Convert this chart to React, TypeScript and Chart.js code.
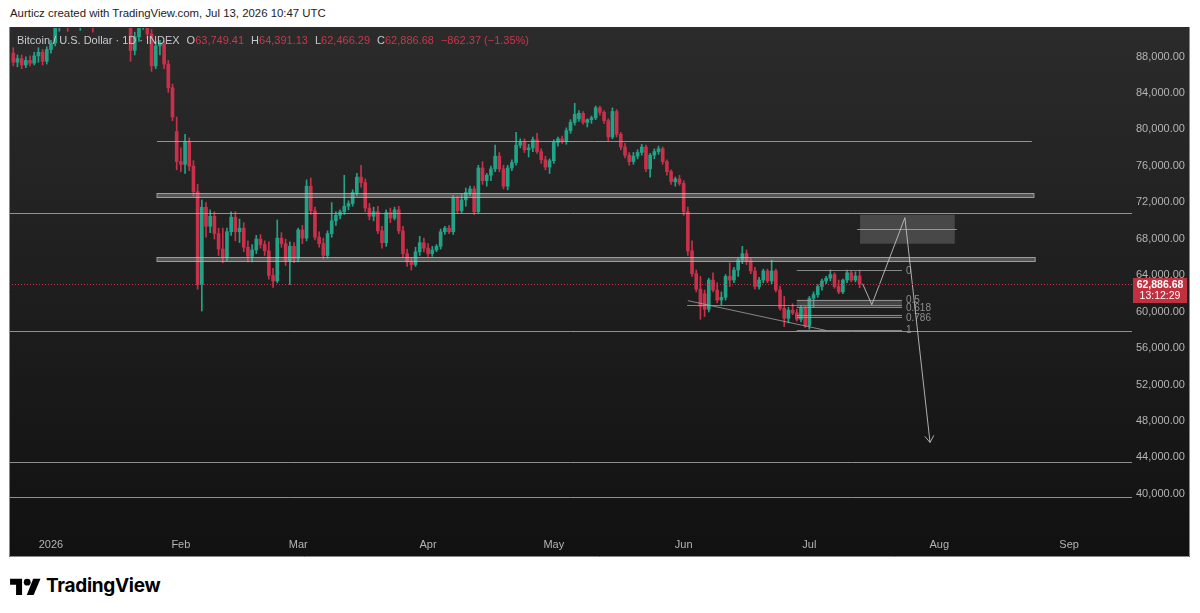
import React, { useEffect, useRef } from "react";
import { Chart, registerables } from "chart.js";

Chart.register(...registerables);

// first candle = 23 Dec 2025, expressed as days from 1 Jan 2026
const FIRST_DAY = -9;

// daily OHLC, in thousands of USD
const opens = [
  88.2, 87.2, 87.6, 86.9, 87.4, 87.1, 87.9, 88.3, 87.3,
  88.6, 89.3, 91.2, 92.0, 93.0, 91.5, 93.5, 91.8, 92.5, 94.0, 92.0, 91.4, 93.5, 95.0, 97.0, 95.5, 96.0, 95.2, 93.5, 92.0, 88.5, 90.0, 91.2, 92.0, 90.3, 86.8, 89.0, 89.2, 87.0, 84.4, 79.6,
  76.3, 76.0, 78.5, 75.8, 73.0, 62.8, 71.3, 69.2, 70.3, 68.4, 66.7, 65.8, 68.6, 70.2, 68.6, 69.0, 66.9, 65.9, 66.6, 67.8, 67.2, 66.5, 63.8, 63.2, 67.9, 67.3, 65.4, 67.0,
  65.7, 68.8, 67.9, 73.6, 70.9, 68.0, 67.3, 66.0, 68.4, 69.8, 70.4, 70.8, 71.4, 71.7, 72.9, 74.6, 74.0, 71.2, 70.3, 70.8, 68.7, 67.4, 70.7, 70.1, 71.0, 68.7, 66.2, 65.3, 65.0, 66.4, 67.4,
  66.8, 66.2, 66.6, 67.0, 68.6, 69.0, 68.6, 72.3, 70.9, 72.1, 72.9, 73.3, 70.8, 75.6, 74.2, 74.8, 75.5, 76.9, 75.5, 73.6, 75.6, 76.2, 78.1, 78.4, 77.6, 77.8, 78.7, 77.4, 76.5, 75.7,
  76.4, 78.4, 78.8, 78.5, 79.7, 80.6, 81.0, 81.6, 80.6, 80.9, 81.1, 82.2, 81.7, 80.8, 79.0, 81.8, 79.3, 77.9, 77.0, 76.3, 76.9, 77.3, 77.9, 75.5, 77.0, 77.4, 77.7, 76.3, 75.2, 74.1, 74.4,
  73.9, 70.8, 66.5, 64.0, 62.3, 61.8, 60.1, 63.3, 62.2, 61.1, 61.4, 63.7, 63.3, 64.4, 65.5, 66.2, 65.4, 64.3, 62.6, 63.3, 64.3, 63.2, 64.3, 62.2, 60.2, 59.1, 60.0, 59.7, 59.0, 60.2,
  58.3, 61.3, 61.7, 62.6, 63.2, 63.5, 63.9, 62.6, 62.0, 63.3, 64.1, 63.3, 63.749,
];
const highs = [
  88.8, 88.0, 88.0, 87.8, 87.9, 88.3, 88.8, 88.6, 88.9,
  89.6, 91.5, 92.5, 93.5, 93.5, 94.0, 94.2, 93.0, 94.5, 94.5, 92.6, 94.0, 95.5, 97.5, 97.5, 96.5, 96.3, 95.6, 94.0, 92.5, 90.5, 91.8, 92.5, 92.3, 90.8, 89.5, 89.6, 89.5, 87.4, 84.8, 81.2,
  77.8, 79.3, 78.9, 76.4, 73.8, 72.1, 71.8, 71.0, 70.8, 69.0, 69.0, 69.0, 70.8, 70.8, 70.0, 69.6, 67.6, 67.2, 68.2, 68.3, 67.6, 67.5, 64.6, 69.9, 68.5, 67.8, 67.5, 67.4,
  69.0, 69.3, 74.3, 74.5, 71.3, 68.6, 67.9, 68.7, 71.8, 70.8, 71.0, 74.8, 72.0, 73.2, 75.0, 75.9, 74.4, 71.7, 71.3, 71.4, 69.2, 71.0, 71.2, 71.3, 71.4, 69.2, 66.7, 65.8, 66.9, 68.1, 67.9,
  67.3, 67.0, 67.2, 68.9, 69.2, 69.3, 72.6, 72.5, 72.7, 73.4, 73.6, 73.6, 75.9, 76.3, 75.0, 75.8, 78.1, 77.3, 75.9, 75.9, 76.5, 79.5, 78.8, 78.8, 78.2, 79.0, 79.4, 77.7, 76.9, 76.6,
  78.7, 79.0, 79.1, 80.0, 80.9, 82.7, 81.9, 81.8, 81.0, 81.3, 82.4, 82.4, 81.9, 81.0, 82.2, 82.0, 79.5, 78.3, 77.3, 77.3, 77.6, 78.2, 78.1, 77.2, 77.7, 78.0, 77.9, 76.5, 75.4, 74.6, 74.8,
  74.2, 71.3, 67.6, 64.4, 63.7, 62.2, 63.5, 64.1, 63.0, 62.0, 63.9, 65.2, 64.7, 65.7, 67.0, 66.6, 65.7, 64.7, 63.6, 64.5, 64.5, 65.5, 64.5, 62.6, 61.5, 60.3, 60.7, 60.1, 60.5, 60.4,
  61.5, 62.0, 62.8, 63.4, 63.7, 64.4, 64.1, 63.3, 63.4, 64.4, 64.3, 64.2, 64.391,
];
const lows = [
  86.8, 86.7, 86.5, 86.6, 86.8, 86.9, 87.2, 86.9, 87.0,
  88.2, 89.0, 90.6, 91.5, 90.6, 91.2, 91.2, 90.7, 92.0, 91.5, 90.5, 91.0, 93.0, 94.5, 95.0, 94.8, 94.8, 93.0, 91.5, 87.3, 88.0, 89.5, 90.8, 89.8, 86.2, 86.5, 88.0, 86.5, 83.9, 80.8, 75.4,
  75.2, 75.0, 75.3, 72.5, 62.3, 59.9, 68.0, 68.5, 67.8, 66.0, 65.2, 65.4, 68.2, 67.6, 67.4, 66.4, 65.3, 65.3, 66.2, 66.8, 66.0, 63.4, 62.5, 63.0, 66.9, 64.9, 62.8, 65.2,
  65.3, 67.3, 67.6, 70.5, 67.7, 66.9, 65.6, 65.7, 68.0, 69.3, 70.0, 70.5, 71.0, 71.4, 72.6, 73.5, 70.8, 69.9, 69.8, 68.4, 66.8, 67.0, 69.6, 69.9, 68.4, 65.8, 64.8, 64.4, 64.8, 66.0, 66.4,
  65.9, 65.9, 66.4, 66.7, 68.3, 68.4, 68.3, 70.6, 70.7, 71.4, 72.6, 70.5, 70.6, 73.8, 73.6, 74.2, 75.2, 75.2, 73.3, 73.2, 75.3, 75.9, 77.8, 77.3, 76.8, 77.4, 77.2, 76.1, 75.4, 75.0,
  76.1, 78.0, 78.3, 78.2, 79.4, 80.3, 80.7, 80.4, 80.1, 80.5, 80.9, 81.4, 80.5, 78.6, 78.8, 79.0, 77.6, 76.7, 75.9, 76.0, 76.6, 77.0, 75.2, 74.6, 76.6, 77.1, 76.0, 74.8, 73.8, 73.6, 73.7,
  70.4, 66.0, 63.7, 62.0, 59.0, 59.3, 59.8, 62.0, 60.8, 60.6, 61.1, 62.6, 63.0, 63.7, 65.1, 65.0, 64.0, 62.3, 62.3, 63.0, 63.0, 62.9, 62.0, 60.0, 58.2, 58.6, 59.5, 58.8, 58.7, 58.1,
  57.9, 60.3, 61.4, 62.2, 62.9, 63.2, 62.4, 61.8, 61.8, 63.0, 63.1, 63.1, 62.466,
];
const closes = [
  87.2, 87.6, 86.9, 87.4, 87.1, 87.9, 88.3, 87.3, 88.6,
  89.3, 91.2, 92.0, 93.0, 91.5, 93.5, 91.8, 92.5, 94.0, 92.0, 91.4, 93.5, 95.0, 97.0, 95.5, 96.0, 95.2, 93.5, 92.0, 88.5, 90.0, 91.2, 92.0, 90.3, 86.8, 89.0, 89.2, 87.0, 84.4, 81.2, 76.3,
  76.0, 78.5, 75.8, 73.0, 62.8, 71.3, 69.2, 70.3, 68.4, 66.7, 65.8, 68.6, 70.2, 68.6, 69.0, 66.9, 65.9, 66.6, 67.8, 67.2, 66.5, 63.8, 63.2, 67.9, 67.3, 65.4, 67.0, 65.7,
  68.8, 67.9, 73.6, 70.9, 68.0, 67.3, 66.0, 68.4, 69.8, 70.4, 70.8, 71.4, 71.7, 72.9, 74.6, 74.0, 71.2, 70.3, 70.8, 68.7, 67.4, 70.7, 70.1, 71.0, 68.7, 66.2, 65.3, 65.0, 66.4, 67.4, 66.8,
  66.2, 66.6, 67.0, 68.6, 69.0, 68.6, 72.3, 70.9, 72.1, 72.9, 73.3, 70.8, 75.6, 74.2, 74.8, 75.5, 76.9, 75.5, 73.6, 75.6, 76.2, 78.1, 78.4, 77.6, 77.8, 78.7, 77.4, 76.5, 75.7, 76.4,
  78.4, 78.8, 78.5, 79.7, 80.6, 81.5, 81.6, 80.6, 80.9, 81.1, 82.2, 81.7, 80.8, 79.0, 81.8, 79.3, 77.9, 77.0, 76.3, 76.9, 77.3, 77.9, 75.5, 77.0, 77.4, 77.7, 76.3, 75.2, 74.1, 74.4, 73.9,
  70.8, 66.5, 64.0, 62.3, 60.4, 60.1, 63.3, 62.2, 61.1, 61.4, 63.7, 63.3, 64.4, 65.5, 66.2, 65.4, 64.3, 62.6, 63.3, 64.3, 63.2, 64.3, 62.2, 60.2, 59.1, 60.0, 59.7, 59.0, 60.2, 58.3,
  61.3, 61.7, 62.6, 63.2, 63.5, 63.9, 62.6, 62.0, 63.3, 64.1, 63.3, 63.749, 62.887,
];

const monthTickDays = [0, 31, 59, 90, 120, 151, 181, 212, 243];
const monthTickLabels = ["2026", "Feb", "Mar", "Apr", "May", "Jun", "Jul", "Aug", "Sep"];
const priceTicks = [40, 44, 48, 52, 56, 60, 64, 68, 72, 76, 80, 84, 88];

const lastPrice = 62.887;
const lastPriceLabel = "62,886.68";
const countdownLabel = "13:12:29";

// drawings (day index from 1 Jan 2026, price in thousands)
const fullLines = [70.68, 57.75, 43.29, 39.45];
const rangeLines = [[25.3, 234.1, 78.58]];
const zoneBands = [
  [25.3, 234.6, 72.45, 72.9],
  [25.3, 234.9, 65.42, 65.86],
];
const fibLevels = [0, 0.5, 0.618, 0.786, 1];
const fibLabels = ["0", "0.5", "0.618", "0.786", "1"];
const fibRange = [178.0, 203.1, 64.43, 57.86];
const supportLine = [151.8, 203.1, 60.6];
const trendLine = [[152.0, 61.04], [185.2, 57.75]];
const targetBox = [193.1, 215.7, 67.29, 70.47];
const targetMid = [192.4, 216.2, 68.93];
const pathPoints = [[193.7, 62.9], [195.9, 60.6], [203.8, 70.14], [209.8, 45.48]];

const X_MIN = -10.02;
const X_MAX = 258.0;
const Y_MIN = 36.53;
const Y_MAX = 90.96;

const FONT = "'Liberation Sans', Arial, sans-serif";
const UP = "#22a387";
const DOWN = "#c9304a";

export default function App() {
  const ref = useRef<HTMLCanvasElement | null>(null);

  useEffect(() => {
    document.body.style.margin = "0";
    const canvas = ref.current;
    if (!canvas) return;
    const days = opens.map((_, i) => FIRST_DAY + i);
    const cols = opens.map((o, i) => (closes[i] >= o ? UP : DOWN));
    const wickData = days.map((d, i) => ({ x: d, y: [lows[i], highs[i]] }));
    const bodyData = days.map((d, i) => ({ x: d, y: [opens[i], closes[i]] }));

    const drawings = {
      id: "drawings",
      beforeDraw(chart: any) {
        const { ctx, width, height } = chart;
        ctx.save();
        const g = ctx.createLinearGradient(0, 0, 0, height);
        g.addColorStop(0, "#2b2b2b");
        g.addColorStop(1, "#111111");
        ctx.fillStyle = g;
        ctx.fillRect(0, 0, width, height);
        ctx.restore();
      },
      afterDatasetsDraw(chart: any) {
        const { ctx, chartArea } = chart;
        const xs = chart.scales.x;
        const ys = chart.scales.y;
        const X = (v: number) => xs.getPixelForValue(v);
        const Y = (v: number) => ys.getPixelForValue(v);
        ctx.save();
        ctx.beginPath();
        ctx.rect(chartArea.left, chartArea.top, chartArea.right - chartArea.left, chartArea.bottom - chartArea.top);
        ctx.clip();
        ctx.lineWidth = 1;

        // bands
        zoneBands.forEach(([a, b, lo, hi]) => {
          const y1 = Math.round(Y(hi)) + 0.5;
          const y2 = Math.round(Y(lo)) + 0.5;
          ctx.fillStyle = "rgba(150,150,150,0.45)";
          ctx.fillRect(X(a), y1, X(b) - X(a), y2 - y1);
          ctx.strokeStyle = "rgba(190,190,190,0.75)";
          ctx.strokeRect(X(a), y1, X(b) - X(a), y2 - y1);
        });

        ctx.strokeStyle = "rgba(175,175,175,0.8)";
        rangeLines.forEach(([a, b, p]) => {
          const y = Math.round(Y(p)) + 0.5;
          ctx.beginPath();
          ctx.moveTo(X(a), y);
          ctx.lineTo(X(b), y);
          ctx.stroke();
        });
        fullLines.forEach((p) => {
          const y = Math.round(Y(p)) + 0.5;
          ctx.beginPath();
          ctx.moveTo(chartArea.left, y);
          ctx.lineTo(chartArea.right, y);
          ctx.stroke();
        });

        // support + trend line
        ctx.strokeStyle = "rgba(170,170,170,0.75)";
        {
          const y = Math.round(Y(supportLine[2])) + 0.5;
          ctx.beginPath();
          ctx.moveTo(X(supportLine[0]), y);
          ctx.lineTo(X(supportLine[1]), y);
          ctx.stroke();
          ctx.beginPath();
          ctx.moveTo(X(trendLine[0][0]), Y(trendLine[0][1]));
          ctx.lineTo(X(trendLine[1][0]), Y(trendLine[1][1]));
          ctx.stroke();
        }

        // fib retracement
        const [fa, fb, f0, f1] = fibRange;
        const fy = (lv: number) => Y(f0 + (f1 - f0) * lv);
        ctx.fillStyle = "rgba(140,140,140,0.35)";
        ctx.fillRect(X(fa), fy(0.5), X(fb) - X(fa), fy(0.618) - fy(0.5));
        ctx.fillStyle = "rgba(140,140,140,0.18)";
        ctx.fillRect(X(fa), fy(0.75), X(fb) - X(fa), fy(0.786) - fy(0.75));
        ctx.strokeStyle = "rgba(160,160,160,0.8)";
        [...fibLevels, 0.75].forEach((lv) => {
          const y = Math.round(fy(lv)) + 0.5;
          ctx.beginPath();
          ctx.moveTo(X(fa), y);
          ctx.lineTo(X(fb), y);
          ctx.stroke();
        });
        ctx.restore();

        ctx.save();
        ctx.fillStyle = "#8e8e8e";
        ctx.font = `10px ${FONT}`;
        ctx.textBaseline = "middle";
        ctx.textAlign = "left";
        fibLevels.forEach((lv, i) => {
          ctx.fillText(fibLabels[i], X(fb) + 4, fy(lv) + 1);
        });
        ctx.restore();

        ctx.save();
        // target box
        const [ba, bb, blo, bhi] = targetBox;
        ctx.fillStyle = "rgba(120,120,120,0.45)";
        ctx.fillRect(X(ba), Y(bhi), X(bb) - X(ba), Y(blo) - Y(bhi));
        ctx.strokeStyle = "rgba(170,170,170,0.8)";
        ctx.lineWidth = 1;
        const my = Math.round(Y(targetMid[2])) + 0.5;
        ctx.beginPath();
        ctx.moveTo(X(targetMid[0]), my);
        ctx.lineTo(X(targetMid[1]), my);
        ctx.stroke();

        // projected path with arrow
        ctx.strokeStyle = "rgba(200,200,200,0.85)";
        ctx.beginPath();
        pathPoints.forEach(([d, p], i) => {
          if (i === 0) ctx.moveTo(X(d), Y(p));
          else ctx.lineTo(X(d), Y(p));
        });
        ctx.stroke();
        const [pd, pp] = pathPoints[pathPoints.length - 1];
        const [qd, qp] = pathPoints[pathPoints.length - 2];
        const ex = X(pd), ey = Y(pp);
        const ang = Math.atan2(ey - Y(qp), ex - X(qd));
        ctx.beginPath();
        ctx.moveTo(ex + 8 * Math.cos(ang + Math.PI - 0.6), ey + 8 * Math.sin(ang + Math.PI - 0.6));
        ctx.lineTo(ex, ey);
        ctx.lineTo(ex + 8 * Math.cos(ang + Math.PI + 0.6), ey + 8 * Math.sin(ang + Math.PI + 0.6));
        ctx.stroke();
        ctx.restore();

        // last price dotted line
        ctx.save();
        const ly = Math.round(Y(lastPrice)) + 0.5;
        ctx.strokeStyle = DOWN;
        ctx.setLineDash([1, 2]);
        ctx.beginPath();
        ctx.moveTo(chartArea.left, ly);
        ctx.lineTo(chartArea.right, ly);
        ctx.stroke();
        ctx.restore();
      },
      afterDraw(chart: any) {
        const { ctx, chartArea, width, height } = chart;
        const ys = chart.scales.y;
        const ly = Math.round(ys.getPixelForValue(lastPrice));
        ctx.save();
        ctx.fillStyle = "#c0303f";
        ctx.fillRect(chartArea.right + 1, ly - 6, 54, 25);
        ctx.fillStyle = "#ffffff";
        ctx.font = `bold 10.5px ${FONT}`;
        ctx.textAlign = "center";
        ctx.textBaseline = "middle";
        const cx = chartArea.right + 28;
        ctx.fillText(lastPriceLabel, cx, ly + 1);
        ctx.font = `10.5px ${FONT}`;
        ctx.fillText(countdownLabel, cx, ly + 12);
        // panel border
        ctx.strokeStyle = "#8a8a8a";
        ctx.lineWidth = 1;
        ctx.beginPath();
        ctx.moveTo(0.5, 0);
        ctx.lineTo(0.5, height - 0.5);
        ctx.lineTo(width - 0.5, height - 0.5);
        ctx.lineTo(width - 0.5, 0);
        ctx.stroke();
        ctx.restore();
      },
    };

    const chart = new Chart(canvas, {
      type: "bar",
      data: {
        datasets: [
          {
            data: wickData as any,
            backgroundColor: cols,
            barThickness: 1,
            grouped: false,
            order: 2,
          } as any,
          {
            data: bodyData as any,
            backgroundColor: cols,
            barThickness: 3,
            minBarLength: 1,
            grouped: false,
            order: 1,
          } as any,
        ],
      },
      options: {
        responsive: false,
        maintainAspectRatio: false,
        animation: false,
        layout: { padding: { top: 1, left: 0, right: 0, bottom: 0 } },
        plugins: { legend: { display: false }, tooltip: { enabled: false } },
        scales: {
          x: {
            type: "linear",
            min: X_MIN,
            max: X_MAX,
            offset: false,
            grid: { display: false, drawTicks: false },
            border: { display: false },
            afterBuildTicks: (s: any) => {
              s.ticks = monthTickDays.map((v) => ({ value: v }));
            },
            afterFit: (s: any) => {
              s.height = 33;
              s.paddingLeft = 0;
              s.paddingRight = 0;
            },
            ticks: {
              color: "#b4b4b4",
              font: { family: FONT, size: 11 },
              padding: 14,
              maxRotation: 0,
              autoSkip: false,
              callback: (v: any) => {
                const i = monthTickDays.indexOf(Number(v));
                return i >= 0 ? monthTickLabels[i] : "";
              },
            },
          },
          y: {
            type: "linear",
            position: "right",
            min: Y_MIN,
            max: Y_MAX,
            grid: { display: false, drawTicks: false },
            border: { display: false },
            afterBuildTicks: (s: any) => {
              s.ticks = priceTicks.map((v) => ({ value: v }));
            },
            afterFit: (s: any) => {
              s.width = 58;
              s.paddingTop = 0;
              s.paddingBottom = 0;
            },
            ticks: {
              color: "#b4b4b4",
              font: { family: FONT, size: 11 },
              padding: 4,
              labelOffset: 1.5,
              callback: (v: any) =>
                (Number(v) * 1000).toLocaleString("en-US", { minimumFractionDigits: 2, maximumFractionDigits: 2 }),
            },
          },
        },
      } as any,
      plugins: [drawings],
    });
    return () => chart.destroy();
  }, []);

  const red = "#c8384b";
  const gray = "#c8cad0";
  const item = (k: string, v: string) => (
    <span style={{ marginLeft: 7 }}>
      <span style={{ color: gray }}>{k}</span>
      <span style={{ color: red }}>{v}</span>
    </span>
  );

  return (
    <div style={{ position: "fixed", left: 0, top: 0, width: 1200, height: 613, background: "#ffffff", overflow: "hidden", fontFamily: FONT }}>
      <div style={{ position: "absolute", left: 10, top: 5, fontSize: 11.4, color: "#1c1c1c", whiteSpace: "nowrap", lineHeight: "16px" }}>
        Aurticz created with TradingView.com, Jul 13, 2026 10:47 UTC
      </div>
      <canvas ref={ref} width={1181} height={530} style={{ position: "absolute", left: 9, top: 27, width: 1181, height: 530 }} />
      <div style={{ position: "absolute", left: 17, top: 32, fontSize: 11, color: gray, whiteSpace: "nowrap", lineHeight: "16px" }}>
        <span>Bitcoin / U.S. Dollar · 1D · INDEX</span>
        {item("O", "63,749.41")}
        {item("H", "64,391.13")}
        {item("L", "62,466.29")}
        {item("C", "62,886.68")}
        <span style={{ marginLeft: 7, color: red }}>−862.37 (−1.35%)</span>
      </div>
      <div style={{ position: "absolute", left: 10, top: 574, display: "flex", alignItems: "center" }}>
        <svg width="31" height="18" viewBox="0 0 36 21">
          <path d="M14 21H7V9H0V2h14v19z" fill="#000" />
          <circle cx="20" cy="6" r="4" fill="#000" />
          <path d="M27.5 21h-8L27 2h8.5L27.5 21z" fill="#000" />
        </svg>
        <span style={{ marginLeft: 5, fontSize: 19, fontWeight: 700, color: "#000", letterSpacing: -0.3, fontFamily: "Inter, 'Open Sans', sans-serif" }}>
          TradingView
        </span>
      </div>
    </div>
  );
}
